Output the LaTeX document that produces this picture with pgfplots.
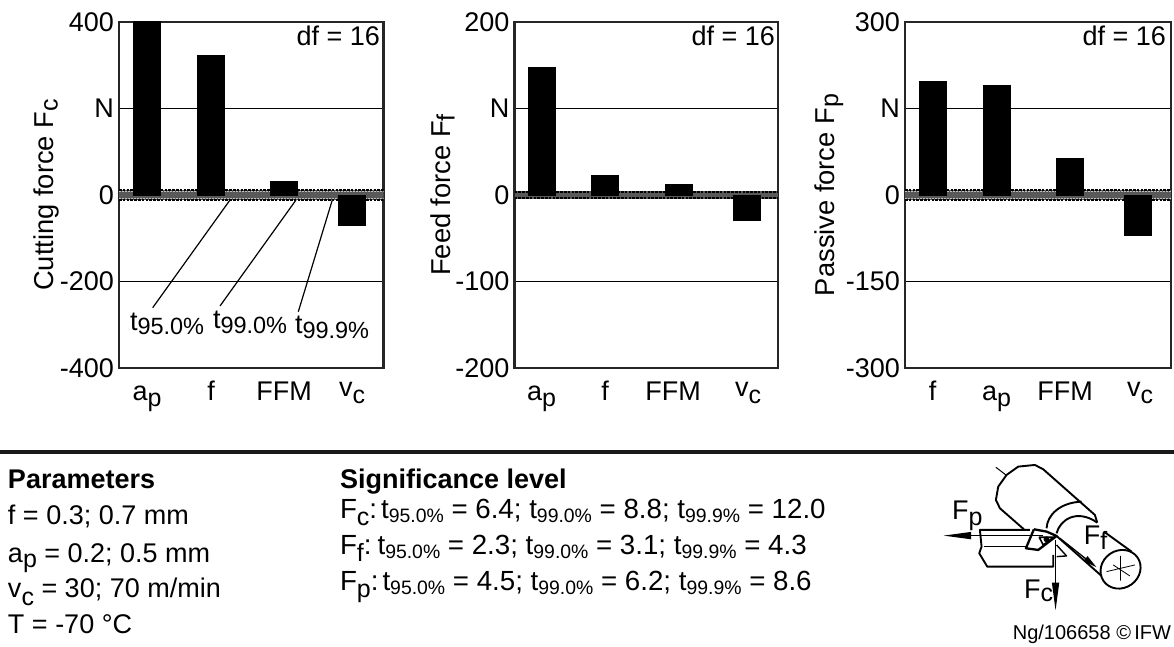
\documentclass[border=0pt]{standalone}
\usepackage{pgfplots}
\pgfplotsset{compat=1.18}
\usepackage{fontspec}
\setmainfont{Liberation Sans}
\usetikzlibrary{arrows.meta}
\newcommand{\subs}[2][-6.5pt]{\raisebox{#1}{\fontsize{25}{25}\selectfont #2}}
\newcommand{\tsub}[1]{t\raisebox{-4pt}{\fontsize{19.4}{19}\selectfont #1}}
\pgfplotsset{
  panel/.style={
    scale only axis, width=#1, height=346pt, anchor=south west,
    axis line style={line width=2.1pt, draw=black!85},
    ymajorgrids, grid style={line width=1.1pt, black},
    major tick length=0pt,
    tick label style={font=\fontsize{27}{27}\selectfont},
    y tick label style={inner sep=0pt, xshift=-5pt},
    x tick label style={anchor=base, yshift=-32pt, inner sep=0pt},
    ylabel style={font=\fontsize{27.3}{27.3}\selectfont},
    ybar, bar shift=0pt, bar width=27pt,
    axis on top=false,
    clip=true,
  },
  barblk/.style={fill=black, draw=black, line width=0pt},
  band/.style={no markers, sharp plot, fill=black!65, draw=none, forget plot},
  bline/.style={no markers, sharp plot, black, line width=1.6pt, dash pattern=on 2.6pt off 1.2pt, forget plot},
  iline/.style={no markers, sharp plot, white!75!black, line width=.7pt, dash pattern=on 1.5pt off 1.5pt, forget plot},
}
\begin{document}
\begin{tikzpicture}
\useasboundingbox (0,0) rectangle (1174pt,646pt);
\fill[white] (0,0) rectangle (1174pt,646pt);

% Panel 1
\begin{axis}[panel=264.5pt, at={(119pt,278pt)},
  xmin=119, xmax=383.5, ymin=-400, ymax=400,
  ytick={-400,-200,0,200,400}, yticklabels={-400,-200,0,N,400},
  xtick={147,211,284,352},
  xticklabels={a\subs{p},f,FFM,{\raisebox{4pt}{v}\subs[-3pt]{c}}},
  ylabel={Cutting force F\subs[-4pt]{c}}, ylabel style={yshift=-3pt}]
\addplot[band] coordinates {(119,-12)(383.5,-12)(383.5,12)(119,12)} -- cycle;
\addplot[bline] coordinates {(119,12)(383.5,12)};
\addplot[bline] coordinates {(119,-12)(383.5,-12)};
\addplot[iline] coordinates {(119,8.8)(383.5,8.8)};
\addplot[iline] coordinates {(119,-8.8)(383.5,-8.8)};
\addplot[barblk] coordinates {(147,400)};
\addplot[barblk] coordinates {(211,323)};
\addplot[barblk] coordinates {(284,32)};
\addplot[barblk] coordinates {(352,-70)};
\end{axis}

% Panel 2
\begin{axis}[panel=263.5pt, at={(514.5pt,278pt)},
  xmin=514.5, xmax=778, ymin=-200, ymax=200,
  ytick={-200,-100,0,100,200}, yticklabels={-200,-100,0,N,200},
  xtick={541.5,605,673,748},
  xticklabels={a\subs{p},f,FFM,{\raisebox{4pt}{v}\subs[-3pt]{c}}},
  ylabel={Feed force F\subs[-4pt]{f}}, ylabel style={yshift=-3pt}]
\addplot[band] coordinates {(514.5,-4.3)(778,-4.3)(778,4.3)(514.5,4.3)} -- cycle;
\addplot[bline] coordinates {(514.5,3.8)(778,3.8)};
\addplot[bline] coordinates {(514.5,-3.8)(778,-3.8)};
\addplot[barblk] coordinates {(541.5,147)};
\addplot[barblk] coordinates {(605,23)};
\addplot[barblk] coordinates {(678.5,12)};
\addplot[barblk] coordinates {(746.5,-29)};
\end{axis}

% Panel 3
\begin{axis}[panel=266pt, at={(905pt,278pt)},
  xmin=905, xmax=1171, ymin=-300, ymax=300,
  ytick={-300,-150,0,150,300}, yticklabels={-300,-150,0,N,300},
  xtick={932.5,996.5,1065,1140},
  xticklabels={f,a\subs{p},FFM,{\raisebox{4pt}{v}\subs[-3pt]{c}}},
  ylabel={Passive force F\subs[-4pt]{p}}, ylabel style={yshift=-1pt}]
\addplot[band] coordinates {(905,-8.6)(1171,-8.6)(1171,8.6)(905,8.6)} -- cycle;
\addplot[bline] coordinates {(905,8.6)(1171,8.6)};
\addplot[bline] coordinates {(905,-8.6)(1171,-8.6)};
\addplot[iline] coordinates {(905,6.2)(1171,6.2)};
\addplot[iline] coordinates {(905,-6.2)(1171,-6.2)};
\addplot[barblk] coordinates {(932.5,196)};
\addplot[barblk] coordinates {(996.5,190)};
\addplot[barblk] coordinates {(1069.5,64)};
\addplot[barblk] coordinates {(1137.5,-70)};
\end{axis}

\begin{scope}[x=1pt,y=-1pt,yshift=646pt,
  every node/.style={inner sep=0pt, outer sep=0pt, font=\fontsize{27}{27}\selectfont}]
% df labels
\node[anchor=base east] at (380,46) {df = 16};
\node[anchor=base east] at (775,46) {df = 16};
\node[anchor=base east] at (1166,46) {df = 16};
% leaders
\draw[line width=1.2pt] (230,200) -- (152.7,307.7);
\draw[line width=1.2pt] (296,200) -- (220,306);
\draw[line width=1.2pt] (332.3,200) -- (298.3,311.7);
\node[anchor=base west] at (130,330) {t\raisebox{-4pt}{\fontsize{23.5}{24}\selectfont 95.0\%}};
\node[anchor=base west] at (213,328) {t\raisebox{-5pt}{\fontsize{23.5}{24}\selectfont 99.0\%}};
\node[anchor=base west] at (295,333) {t\raisebox{-6pt}{\fontsize{23.5}{24}\selectfont 99.9\%}};
% separator
\draw[line width=3.2pt, black!90] (0,452) -- (1174,452);
% parameters
\node[anchor=base west] at (8,488) {\textbf{Parameters}};
\node[anchor=base west] at (8,524) {f = 0.3; 0.7 mm};
\node[anchor=base west] at (8,562) {a\subs[-5pt]{p} = 0.2; 0.5 mm};
\node[anchor=base west] at (8,597) {v\subs[-8pt]{c} = 30; 70 m/min};
\node[anchor=base west] at (8,633) {T = -70 °C};
% significance
\node[anchor=base west] at (340,488) {\textbf{Significance level}};
\node[anchor=base west, font=\fontsize{27.7}{27.7}\selectfont] at (340,518) {F\subs[-7pt]{c}:\kern4pt \tsub{95.0\%} = 6.4; \tsub{99.0\%} = 8.8; \tsub{99.9\%} = 12.0};
\node[anchor=base west, font=\fontsize{27.7}{27.7}\selectfont] at (340,554) {F\subs[-7pt]{f}:\kern6pt \tsub{95.0\%} = 2.3; \tsub{99.0\%} = 3.1; \tsub{99.9\%} = 4.3};
\node[anchor=base west, font=\fontsize{27.7}{27.7}\selectfont] at (340,590) {F\subs[-7pt]{p}:\kern4pt \tsub{95.0\%} = 4.5; \tsub{99.0\%} = 6.2; \tsub{99.9\%} = 8.6};
% footer
\node[anchor=base east, font=\fontsize{20}{20}\selectfont] at (1171,639) {Ng/106658 ©\,IFW};
\end{scope}

% schematic (coordinates in zoom px: 3 per image px)
\begin{scope}[yshift=646pt, x=0.3333pt, y=-0.3333pt, shift={(2700,1350)}, line join=round,
   every node/.style={inner sep=0pt, outer sep=0pt}]
\draw[line width=1.9pt] (372,238) -- (300,175) -- (288,150) -- (295,110) -- (320,75) -- (355,50) -- (405,45) -- (430,58) -- (585,195) -- (592,218);
\draw[line width=1pt] (288,52) -- (318,75);
\draw[line width=1.9pt] (440,235) .. controls (442,195) and (480,158) .. (545,155);
\draw[line width=1.9pt] (470,250) .. controls (480,210) and (530,175) .. (592,218);
\draw[line width=1.9pt] (612,245) -- (695,305);
\draw[line width=1.9pt, rotate around={35:(662,358)}] (662,358) ellipse (62 and 56);
\draw[line width=.8pt] (620,365) -- (705,345) (662,318) -- (662,392) (640,345) -- (690,378);
\draw[line width=1.9pt] (470,258) -- (605,378);
\draw[line width=1.4pt] (470,285) -- (500,318) -- (470,320);
% tool
\draw[line width=1.9pt] (390,240) -- (240,240) -- (245,290) -- (238,310) -- (262,350) -- (460,350) -- (460,315);
\draw[line width=1.6pt] (252,290) -- (378,290);
\draw[line width=2.3pt] (402,238) -- (378,295) -- (415,300) -- (470,258) -- (440,245) -- (402,238);
\draw[line width=1.6pt] (418,262) -- (430,285) -- (462,262) -- cycle;
\fill (440,268) circle (9);
% arrows
\draw[line width=1.4pt, -{Triangle[length=28pt,width=7pt]}] (430,257) -- (130,257);
\draw[line width=1.4pt, -{Triangle[length=28pt,width=7pt]}] (467,270) -- (467,482);
\draw[line width=1.3pt, -{Triangle[length=14pt,width=6pt]}] (480,265) -- (590,352);
\node[anchor=base west, font=\fontsize{27}{27}\selectfont] at (157,210) {F\subs[-6pt]{p}};
\node[anchor=base west, font=\fontsize{27}{27}\selectfont] at (552,285) {F\subs[-5pt]{f}};
\node[anchor=base west, font=\fontsize{27}{27}\selectfont] at (373,447) {F\subs[-3pt]{c}};
\end{scope}
\end{tikzpicture}
\end{document}
